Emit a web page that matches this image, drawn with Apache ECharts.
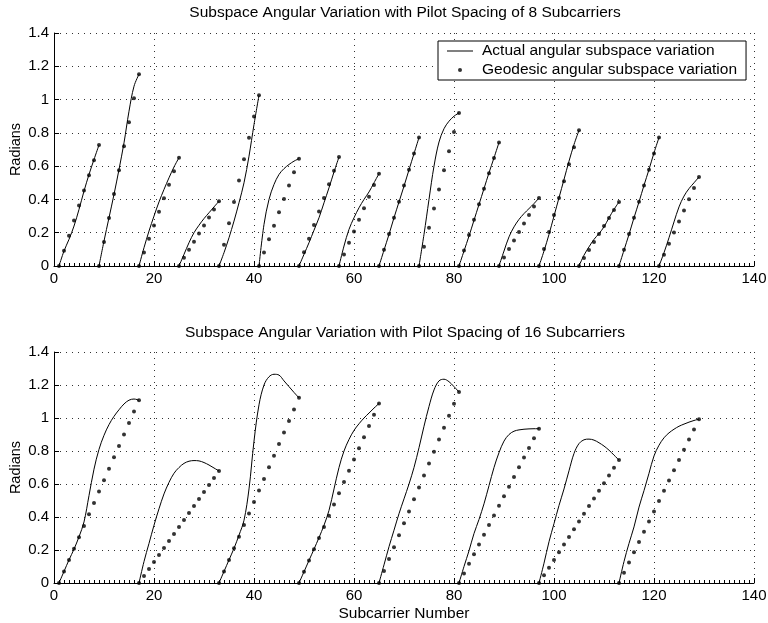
<!DOCTYPE html>
<html>
<head>
<meta charset="utf-8">
<script src="https://cdn.jsdelivr.net/npm/echarts@6/dist/echarts.min.js"></script>
<style>
html,body{margin:0;padding:0;background:#fff;}
#chart{width:768px;height:623px;}
</style>
</head>
<body>
<div id="chart"></div>
<script>
// ---------- DATA ----------
const topTitle = 'Subspace Angular Variation with Pilot Spacing of 8 Subcarriers';
const bottomTitle = 'Subspace Angular Variation with Pilot Spacing of 16 Subcarriers';
const xLabel = 'Subcarrier Number';
const yLabel = 'Radians';
const actualName = 'Actual angular subspace variation';
const geodesicName = 'Geodesic angular subspace variation';

// pilot positions (segment starts)
const topPilots = [1, 9, 17, 25, 33, 41, 49, 57, 65, 73, 81, 89, 97, 105, 113, 121];
const bottomPilots = [1, 17, 33, 49, 65, 81, 97, 113];

// actual variation, one value per subcarrier from the pilot onwards
const topActual = [
  [0, 0.09, 0.16, 0.24, 0.34, 0.45, 0.55, 0.64, 0.727],
  [0, 0.15, 0.29, 0.43, 0.58, 0.74, 0.93, 1.08, 1.152],
  [0, 0.11, 0.21, 0.30, 0.385, 0.46, 0.53, 0.595, 0.651],
  [0, 0.07, 0.14, 0.20, 0.245, 0.285, 0.32, 0.355, 0.389],
  [0, 0.08, 0.17, 0.27, 0.38, 0.50, 0.66, 0.85, 1.026],
  [0, 0.25, 0.40, 0.49, 0.55, 0.585, 0.61, 0.63, 0.645],
  [0, 0.07, 0.14, 0.215, 0.29, 0.38, 0.47, 0.565, 0.655],
  [0, 0.12, 0.22, 0.29, 0.35, 0.40, 0.445, 0.50, 0.555],
  [0, 0.095, 0.19, 0.29, 0.385, 0.48, 0.578, 0.675, 0.772],
  [0, 0.19, 0.40, 0.60, 0.745, 0.825, 0.87, 0.90, 0.92],
  [0, 0.09, 0.18, 0.275, 0.37, 0.465, 0.56, 0.65, 0.742],
  [0, 0.09, 0.175, 0.235, 0.28, 0.315, 0.345, 0.375, 0.409],
  [0, 0.09, 0.19, 0.30, 0.41, 0.52, 0.63, 0.73, 0.815],
  [0, 0.065, 0.115, 0.16, 0.195, 0.235, 0.29, 0.34, 0.385],
  [0, 0.095, 0.19, 0.29, 0.385, 0.485, 0.58, 0.68, 0.772],
  [0, 0.08, 0.17, 0.265, 0.355, 0.42, 0.465, 0.50, 0.535]
];
const topGeodesic = [
  [0, 0.091, 0.182, 0.273, 0.364, 0.454, 0.545, 0.636, 0.727],
  [0, 0.144, 0.288, 0.432, 0.576, 0.72, 0.864, 1.008, 1.152],
  [0, 0.081, 0.163, 0.244, 0.326, 0.407, 0.488, 0.57, 0.651],
  [0, 0.049, 0.097, 0.146, 0.195, 0.243, 0.292, 0.34, 0.389],
  [0, 0.128, 0.257, 0.385, 0.513, 0.641, 0.77, 0.898, 1.026],
  [0, 0.081, 0.161, 0.242, 0.323, 0.403, 0.484, 0.564, 0.645],
  [0, 0.082, 0.164, 0.246, 0.328, 0.409, 0.491, 0.573, 0.655],
  [0, 0.069, 0.139, 0.208, 0.278, 0.347, 0.416, 0.486, 0.555],
  [0, 0.097, 0.193, 0.29, 0.386, 0.483, 0.579, 0.676, 0.772],
  [0, 0.115, 0.23, 0.345, 0.46, 0.575, 0.69, 0.805, 0.92],
  [0, 0.093, 0.186, 0.278, 0.371, 0.464, 0.557, 0.649, 0.742],
  [0, 0.051, 0.102, 0.153, 0.205, 0.256, 0.307, 0.358, 0.409],
  [0, 0.102, 0.204, 0.306, 0.408, 0.509, 0.611, 0.713, 0.815],
  [0, 0.048, 0.096, 0.144, 0.193, 0.241, 0.289, 0.337, 0.385],
  [0, 0.097, 0.193, 0.29, 0.386, 0.483, 0.579, 0.676, 0.772],
  [0, 0.067, 0.134, 0.201, 0.268, 0.334, 0.401, 0.468, 0.535]
];
const bottomActual = [
  [0, 0.07, 0.14, 0.205, 0.28, 0.37, 0.53, 0.69, 0.81, 0.895, 0.96, 1.01, 1.05, 1.085, 1.108, 1.115, 1.108],
  [0, 0.13, 0.24, 0.35, 0.45, 0.54, 0.61, 0.665, 0.70, 0.725, 0.738, 0.742, 0.74, 0.73, 0.715, 0.697, 0.679],
  [0, 0.07, 0.14, 0.21, 0.29, 0.38, 0.57, 0.86, 1.08, 1.20, 1.25, 1.265, 1.26, 1.225, 1.19, 1.155, 1.122],
  [0, 0.068, 0.137, 0.205, 0.275, 0.35, 0.44, 0.57, 0.70, 0.80, 0.87, 0.925, 0.965, 1.0, 1.03, 1.06, 1.088],
  [0, 0.11, 0.22, 0.32, 0.42, 0.51, 0.60, 0.70, 0.82, 0.95, 1.07, 1.17, 1.225, 1.235, 1.22, 1.19, 1.158],
  [0, 0.10, 0.195, 0.30, 0.385, 0.48, 0.59, 0.70, 0.79, 0.86, 0.90, 0.92, 0.928, 0.932, 0.934, 0.935, 0.935],
  [0, 0.12, 0.25, 0.36, 0.47, 0.57, 0.68, 0.785, 0.845, 0.868, 0.872, 0.866, 0.85, 0.83, 0.805, 0.775, 0.745],
  [0, 0.13, 0.24, 0.34, 0.46, 0.56, 0.665, 0.77, 0.835, 0.88, 0.91, 0.932, 0.95, 0.963, 0.975, 0.985, 0.993]
];
const bottomGeodesic = [
  [0, 0.069, 0.139, 0.208, 0.277, 0.346, 0.416, 0.485, 0.554, 0.623, 0.693, 0.762, 0.831, 0.9, 0.97, 1.039, 1.108],
  [0, 0.042, 0.085, 0.127, 0.17, 0.212, 0.255, 0.297, 0.34, 0.382, 0.424, 0.467, 0.509, 0.552, 0.594, 0.637, 0.679],
  [0, 0.07, 0.14, 0.21, 0.281, 0.351, 0.421, 0.491, 0.561, 0.631, 0.701, 0.771, 0.842, 0.912, 0.982, 1.052, 1.122],
  [0, 0.068, 0.136, 0.204, 0.272, 0.34, 0.408, 0.476, 0.544, 0.612, 0.68, 0.748, 0.816, 0.884, 0.952, 1.02, 1.088],
  [0, 0.072, 0.145, 0.217, 0.29, 0.362, 0.434, 0.507, 0.579, 0.651, 0.724, 0.796, 0.869, 0.941, 1.013, 1.086, 1.158],
  [0, 0.058, 0.117, 0.175, 0.234, 0.292, 0.351, 0.409, 0.468, 0.526, 0.584, 0.643, 0.701, 0.76, 0.818, 0.877, 0.935],
  [0, 0.047, 0.093, 0.14, 0.186, 0.233, 0.279, 0.326, 0.373, 0.419, 0.466, 0.512, 0.559, 0.605, 0.652, 0.698, 0.745],
  [0, 0.062, 0.124, 0.186, 0.248, 0.31, 0.372, 0.434, 0.497, 0.559, 0.621, 0.683, 0.745, 0.807, 0.869, 0.931, 0.993]
];
const xTicks = [0, 20, 40, 60, 80, 100, 120, 140];
const yTicks = [0, 0.2, 0.4, 0.6, 0.8, 1, 1.2, 1.4];

// ---------- CHART ----------
const FONT = "'Liberation Sans', Arial, Helvetica, sans-serif";
const chart = echarts.init(document.getElementById('chart'), null, {renderer: 'canvas'});

function segPoints(pilot, vals) {
  return vals.map((v, j) => [pilot + j, v]);
}

function xAxisCfg(gi, withName) {
  return {
    type: 'value', gridIndex: gi,
    min: xTicks[0], max: xTicks[xTicks.length - 1], interval: xTicks[1] - xTicks[0],
    name: withName ? xLabel : '', nameLocation: 'middle', nameGap: 23, nameMoveOverlap: false,
    nameTextStyle: {color: '#000', fontSize: 15.5, fontFamily: FONT},
    axisLine: {show: true, onZero: false, lineStyle: {color: '#000', width: 1}},
    axisTick: {show: true, inside: true, length: 5, lineStyle: {color: '#000'}},
    minorTick: {show: true, splitNumber: 20, length: 3, lineStyle: {color: '#000'}},
    axisLabel: {color: '#000', fontSize: 15, fontFamily: FONT, margin: 5},
    splitLine: {show: true, lineStyle: {color: '#333', width: 1, type: [1, 5]}}
  };
}
function yAxisCfg(gi) {
  return {
    type: 'value', gridIndex: gi,
    min: yTicks[0], max: yTicks[yTicks.length - 1], interval: 0.2,
    name: yLabel, nameLocation: 'middle', nameGap: 31, nameRotate: 90, nameMoveOverlap: false,
    nameTextStyle: {color: '#000', fontSize: 14.5, fontFamily: FONT},
    axisLine: {show: true, onZero: false, lineStyle: {color: '#000', width: 1}},
    axisTick: {show: true, inside: true, length: 5, lineStyle: {color: '#000'}},
    axisLabel: {color: '#000', fontSize: 15, fontFamily: FONT, margin: 5},
    splitLine: {show: true, lineStyle: {color: '#333', width: 1, type: [1, 5]}}
  };
}

const series = [];
function addPlot(gi, pilots, actual, geodesic) {
  actual.forEach((vals, i) => {
    series.push({
      name: actualName, type: 'line', xAxisIndex: gi, yAxisIndex: gi,
      data: segPoints(pilots[i], vals), showSymbol: false, symbol: 'none',
      smooth: 0.35, lineStyle: {color: '#000', width: 1}, itemStyle: {color: '#000'},
      animation: false, z: 3
    });
  });
  let dots = [];
  geodesic.forEach((vals, i) => { dots = dots.concat(segPoints(pilots[i], vals)); });
  series.push({
    name: geodesicName, type: 'scatter', xAxisIndex: gi, yAxisIndex: gi,
    data: dots, symbol: 'circle', symbolSize: 4,
    itemStyle: {color: '#000'}, animation: false, z: 4
  });
}
addPlot(0, topPilots, topActual, topGeodesic);
addPlot(1, bottomPilots, bottomActual, bottomGeodesic);

const lineIcon = 'path://M0,0M30,4M0,1.5H26V2.5H0Z';
const dotIcon = 'path://M0,0M30,4M11,2A2,2,0,1,0,15,2A2,2,0,1,0,11,2Z';

chart.setOption({
  backgroundColor: '#fff',
  animation: false,
  title: [
    {text: topTitle, left: 405, top: 5, textAlign: 'center', padding: 0,
     textStyle: {color: '#000', fontSize: 15.5, fontWeight: 'normal', fontFamily: FONT}},
    {text: bottomTitle, left: 405, top: 325, textAlign: 'center', padding: 0,
     textStyle: {color: '#000', fontSize: 15.5, fontWeight: 'normal', fontFamily: FONT}}
  ],
  legend: {
    show: true, orient: 'vertical', left: 438, top: 41,
    backgroundColor: '#fff', borderColor: '#000', borderWidth: 1, borderRadius: 0,
    padding: [2, 9, 2, 9], itemGap: 3, itemWidth: 30, itemHeight: 4,
    symbolKeepAspect: true,
    textStyle: {color: '#000', fontSize: 15.5, fontFamily: FONT},
    selectedMode: false,
    data: [
      {name: actualName, icon: lineIcon},
      {name: geodesicName, icon: dotIcon}
    ]
  },
  grid: [
    {left: 54, top: 33, width: 700, height: 233, containLabel: false, outerBoundsMode: 'none'},
    {left: 54, top: 352, width: 700, height: 231, containLabel: false, outerBoundsMode: 'none'}
  ],
  xAxis: [xAxisCfg(0, false), xAxisCfg(1, true)],
  yAxis: [yAxisCfg(0), yAxisCfg(1)],
  series: series
});
</script>
</body>
</html>
